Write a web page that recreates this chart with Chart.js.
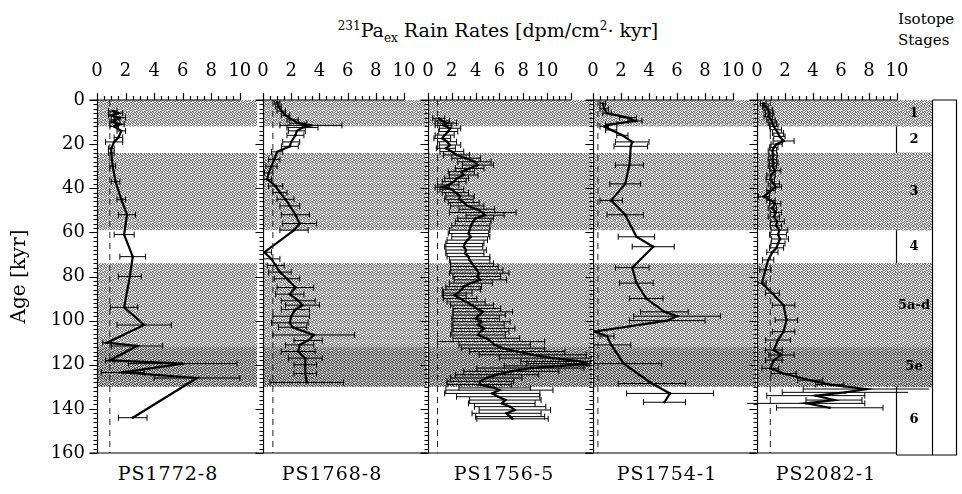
<!DOCTYPE html>
<html>
<head>
<meta charset="utf-8">
<title>231Pa ex rain rates</title>
<script src="https://cdn.jsdelivr.net/npm/chart.js@4.4.1/dist/chart.umd.min.js"></script>
<style>
  body { margin: 0; background: #fff; }
  #wrap { position: relative; width: 962px; height: 494px; overflow: hidden; font-family: "DejaVu Serif", serif; color: #000; }
  #wrap canvas { position: absolute; top: 50px; }
  .lbl { position: absolute; white-space: nowrap; line-height: 1; }
  .lbl sup, .lbl sub { font-size: 12px; line-height: 0; }
</style>
</head>
<body>
<div id="wrap">
  <div class="lbl" style="left:298px;width:400px;top:21px;text-align:center;font-size:19px"><sup>231</sup>Pa<sub>ex</sub> Rain Rates [dpm/cm<sup>2</sup>· kyr]</div>
  <div class="lbl" style="left:898px;top:9px;font-size:15px;line-height:21px">Isotope<br>Stages</div>
</div>
<script>
// isotope stages (kyr)
const stageLabels = ['1', '2', '3', '4', '5a-d', '5e', '6'];
const stageFrom = [0, 12, 24, 59, 74, 112, 130];
const stageTo = [12, 24, 59, 74, 112, 130, 160];
const stageShade = [1, 0, 1, 0, 1, 2, 0];

const coreNames = ['PS1772-8', 'PS1768-8', 'PS1756-5', 'PS1754-1', 'PS2082-1'];
const rateTicks = [0, 2, 4, 6, 8, 10];
const ageTicks = [0, 20, 40, 60, 80, 100, 120, 140, 160];
const baseline = [0.9, 0.7, 0.8, 0.35, 0.95];

// PS1772-8
const age1772 = [5, 6, 7, 8, 9, 10, 11, 12, 14, 17, 19, 22, 24, 30, 37, 45, 52, 61, 71, 80, 94, 102, 110, 111.5, 118, 119.5, 123.5, 126, 144];
const rate1772 = [1.1, 1.5, 1.0, 1.6, 1.3, 1.1, 1.6, 1.2, 1.7, 1.5, 1.2, 1.0, 1.0, 1.1, 1.3, 1.7, 2.1, 1.9, 2.5, 2.3, 1.9, 3.3, 0.7, 2.8, 0.9, 6.0, 1.8, 7.0, 2.5];
const err1772 = [0.3, 0.3, 0.2, 0.4, 0.3, 0.2, 0.3, 0.3, 0.3, 0.3, 0.6, 0.2, 0.2, 0.2, 0.3, 0.3, 0.6, 0.7, 0.9, 0.8, 0.95, 1.9, 0.3, 1.8, 0.3, 3.8, 1.5, 3.0, 1.0];

// PS1768-8
const age1768 = [1, 3, 5, 7, 9, 10.5, 11.5, 12.5, 14, 16, 19, 21, 23.5, 27, 30, 33, 36, 39, 42, 45, 48, 52, 56, 59, 69, 72, 75, 78, 81, 85, 88, 91, 93, 95, 98, 101, 103, 106.5, 109, 111, 114, 117, 120, 124, 128];
const rate1768 = [1.0, 1.1, 1.3, 1.6, 2.1, 2.5, 3.4, 2.8, 2.4, 2.3, 2.0, 1.9, 1.0, 0.8, 0.6, 0.4, 0.3, 0.9, 1.2, 1.6, 1.9, 2.3, 2.6, 2.2, 0.1, 0.6, 0.9, 1.2, 1.7, 2.3, 1.9, 2.5, 2.8, 2.3, 2.0, 1.9, 2.1, 3.6, 3.2, 2.6, 2.5, 3.0, 3.0, 3.0, 3.1];
const err1768 = [0.2, 0.2, 0.3, 0.3, 0.4, 0.6, 2.2, 1.1, 0.6, 0.6, 0.6, 0.6, 0.4, 0.4, 0.4, 0.3, 0.3, 0.5, 0.5, 0.6, 0.7, 1.0, 1.2, 1.0, 0.5, 0.6, 0.6, 0.8, 0.9, 1.3, 1.0, 1.2, 1.2, 1.0, 1.3, 1.3, 1.0, 2.9, 1.0, 1.0, 1.2, 1.2, 0.8, 0.8, 2.6];

// PS1756-5
const age1756 = [8.3, 9.5, 10.5, 11.5, 12.8, 14.3, 15.9, 17.4, 18.9, 20.4,
  21.9, 23.4, 24.9, 26.4, 28, 29.5, 31, 32.5, 34, 35.5,
  37, 38.5, 39.5, 40.5, 42, 43.5, 45, 46.5, 48, 49.5,
  51, 52.2, 53.6, 55, 57, 59, 60.5, 62, 63.5, 65,
  66.5, 68, 69.5, 71, 72.5, 74, 75.5, 77, 78.5, 80,
  81.5, 83, 84.6, 86, 87.5, 88.5, 90, 91.5, 93, 94.5,
  96, 97.5, 99, 100.5, 102, 103.5, 105, 106.5, 108, 109.5,
  111, 112.5, 114, 115.5, 117, 118.5, 119.5, 120.5, 121.5, 123,
  124.5, 126, 127.5, 129, 130.5, 131.5, 133, 134.5, 136, 137.5,
  139, 140.5, 142, 143.5, 144.5];
const rate1756 = [0.9, 1.2, 1.6, 1.3, 1.85, 1.7, 1.4, 1.2, 1.6, 1.85,
  1.5, 2.0, 2.4, 3.2, 3.9, 4.2, 3.5, 2.8, 3.0, 2.4,
  2.2, 1.7, 1.2, 2.0, 2.3, 2.7, 2.6, 3.0, 3.3, 4.1,
  4.6, 4.8, 4.0, 3.8, 3.6, 3.5, 3.4, 3.6, 3.3, 3.1,
  3.0, 3.2, 3.1, 3.4, 3.5, 3.7, 3.9, 4.1, 4.3, 4.1,
  4.4, 3.6, 3.0, 2.8, 2.5, 2.2, 2.7, 3.2, 3.7, 4.1,
  4.6, 4.3, 4.0, 4.5, 4.2, 4.7, 4.4, 4.2, 4.9, 5.3,
  5.6, 6.3, 7.5, 8.8, 10.5, 12.8, 13.3, 11.2, 8.6, 7.0,
  5.8, 4.9, 4.4, 4.3, 5.6, 6.0, 5.4, 5.9, 6.5, 6.2,
  6.9, 7.3, 6.6, 6.9, 7.1];
const err1756 = [0.5, 0.6, 0.8, 0.7, 0.9, 0.8, 0.8, 0.7, 0.8, 0.9,
  0.8, 1.0, 1.1, 1.2, 1.4, 1.3, 1.2, 1.1, 1.2, 1.0,
  1.0, 0.9, 0.6, 1.0, 1.1, 1.2, 1.2, 1.3, 1.4, 1.5,
  2.8, 1.6, 1.5, 1.5, 1.6, 1.7, 1.7, 1.6, 1.7, 1.6,
  1.6, 1.7, 1.6, 1.8, 1.7, 1.8, 2.0, 2.2, 2.5, 2.0,
  2.2, 1.8, 1.5, 1.6, 1.2, 1.0, 1.4, 1.6, 1.8, 2.0,
  2.5, 2.2, 2.0, 2.4, 2.2, 2.6, 2.4, 2.3, 2.8, 4.5,
  3.0, 3.5, 4.0, 4.5, 4.5, 5.0, 5.0, 4.8, 4.5, 4.0,
  3.5, 3.0, 2.8, 2.7, 3.0, 4.5, 4.0, 3.5, 3.0, 2.8,
  3.0, 3.0, 2.9, 2.9, 3.0];

// PS1754-1
const age1754 = [1.5, 4, 6, 8, 9.5, 11, 12, 13.6, 16, 19, 21, 29.5, 38, 45.5, 52, 62, 66.5, 76, 83, 90, 96, 98, 100, 105, 107, 111, 119.5, 128.5, 133, 137];
const rate1754 = [0.7, 0.8, 1.0, 2.5, 3.0, 1.3, 0.8, 1.3, 2.1, 2.8, 2.7, 2.6, 2.3, 1.3, 2.3, 3.1, 4.3, 2.8, 3.1, 3.8, 5.1, 6.0, 5.3, 0.1, 1.0, 1.3, 2.2, 4.2, 5.5, 5.1];
const err1754 = [0.2, 0.3, 0.3, 0.6, 0.5, 0.4, 0.3, 0.4, 0.4, 1.2, 1.2, 1.0, 1.1, 0.8, 1.3, 1.3, 1.5, 1.2, 1.2, 1.2, 1.7, 3.1, 2.7, 0.3, 0.5, 1.4, 2.7, 2.4, 3.1, 1.5];

// PS2082-1
const age2082 = [1.5, 3, 4.5, 6, 7.5, 9, 10.5, 12, 13.5, 15,
  16.5, 18.6, 20, 21.5, 23, 25, 27, 28.6, 30, 32,
  34, 36, 38, 39.5, 41, 43.8, 45.5, 47, 49, 51,
  53, 55, 57, 59, 61, 63, 65, 67, 69, 72.5,
  77, 83, 87.6, 93, 99.7, 105, 108.8, 113.3, 115.6, 117.9,
  121.6, 124, 127, 129, 131, 132.5, 134, 136, 137.5, 139.5];
const rate2082 = [0.45, 0.6, 0.8, 0.9, 0.8, 1.0, 1.1, 1.2, 1.35, 1.5,
  1.6, 1.9, 1.4, 1.2, 1.1, 1.15, 1.1, 1.2, 1.1, 1.3,
  1.0, 0.95, 1.2, 1.35, 1.0, 0.5, 1.0, 1.3, 1.1, 1.35,
  1.2, 1.45, 1.35, 1.6, 1.5, 1.65, 1.5, 1.4, 1.1, 0.8,
  0.6, 0.35, 1.1, 1.9, 2.1, 1.9, 1.5, 1.2, 1.75, 1.2,
  0.95, 1.9, 3.8, 5.2, 7.8, 6.3, 4.2, 5.5, 3.5, 5.2];
const err2082 = [0.2, 0.2, 0.3, 0.3, 0.3, 0.3, 0.3, 0.3, 0.4, 0.4,
  0.4, 0.75, 0.4, 0.3, 0.3, 0.3, 0.3, 0.3, 0.3, 0.4,
  0.3, 0.3, 0.4, 0.4, 0.3, 0.4, 0.3, 0.4, 0.3, 0.4,
  0.4, 0.5, 0.4, 0.6, 0.6, 0.6, 0.5, 0.5, 0.4, 0.4,
  0.4, 0.3, 0.5, 0.8, 0.8, 0.8, 0.9, 0.6, 0.9, 0.6,
  0.6, 0.9, 0.9, 1.0, 4.5, 4.5, 3.5, 2.0, 4.2, 3.8];

const cores = [
  {age: age1772, rate: rate1772, err: err1772},
  {age: age1768, rate: rate1768, err: err1768},
  {age: age1756, rate: rate1756, err: err1756},
  {age: age1754, rate: rate1754, err: err1754},
  {age: age2082, rate: rate2082, err: err2082}
];

// page layout of the five panels (pixels) and their x ranges
const panelBox = [
  {left: 97, right: 257, xMax: 11.2, tickMax: 10, labelX: 168},
  {left: 263, right: 427, xMax: 11.63, tickMax: 10, labelX: 332},
  {left: 428, right: 592, xMax: 13.78, tickMax: 12, labelX: 504},
  {left: 593, right: 756, xMax: 11.64, tickMax: 10, labelX: 667},
  {left: 757, right: 897, xMax: 10, tickMax: 10, labelX: 826}
];

Chart.defaults.font.family = '"DejaVu Serif", serif';
Chart.defaults.color = '#000';

// stippled grey fill like the printed figure
const stipple = ['10010110', '01101001', '10100100', '01001011',
                 '00110100', '11001010', '01010011', '10101100'];
function stipplePattern(dark, light) {
  const tile = document.createElement('canvas');
  tile.width = 8;
  tile.height = 8;
  const t = tile.getContext('2d');
  stipple.forEach((row, r) => {
    for (let c = 0; c < 8; c++) {
      t.fillStyle = row[c] === '1' ? dark : light;
      t.fillRect(c, r, 1, 1);
    }
  });
  return t.createPattern(tile, 'repeat');
}
const shadeColours = ['rgba(0,0,0,0)', stipplePattern('#707070', '#e8e8e8'), stipplePattern('#4a4a4a', '#c8c8c8')];
const wrap = document.getElementById('wrap');

const bandsPlugin = {
  id: 'stageBands',
  beforeDatasetsDraw(chart) {
    const {ctx, chartArea: a, scales: {y}} = chart;
    ctx.save();
    stageFrom.forEach((from, i) => {
      if (!stageShade[i]) return;
      const top = y.getPixelForValue(from);
      const bottom = y.getPixelForValue(stageTo[i]);
      ctx.fillStyle = shadeColours[stageShade[i]];
      ctx.fillRect(a.left, top, a.right - a.left, bottom - top);
    });
    ctx.restore();
  }
};

const framePlugin = {
  id: 'frame',
  afterDatasetsDraw(chart, args, opts) {
    const {ctx, chartArea: a, scales: {x, y}} = chart;
    const x0 = Math.round(x.getPixelForValue(0)) + 0.5;
    const seg = (x1, y1, x2, y2) => { ctx.moveTo(x1, y1); ctx.lineTo(x2, y2); };
    ctx.save();
    ctx.strokeStyle = '#000';
    ctx.lineWidth = 1.2;
    ctx.beginPath();
    seg(x0, a.top, x0, a.bottom);
    seg(x0 - 8, a.top, x.getPixelForValue(opts.tickMax), a.top);
    seg(x0 - 8, a.bottom, a.right, a.bottom);
    for (let v = 0; v <= opts.tickMax; v += 0.5) {
      const px = Math.round(x.getPixelForValue(v)) + 0.5;
      seg(px, a.top, px, a.top - (v % 2 === 0 ? 7 : 4));
    }
    for (let t = 0; t <= 160; t += 2) {
      const py = Math.round(y.getPixelForValue(t)) + 0.5;
      seg(x0, py, x0 - (t % 20 === 0 ? 8 : 4), py);
    }
    ctx.stroke();
    ctx.restore();
  }
};

function errorBarPoints(core) {
  const pts = [];
  core.age.forEach((a, i) => {
    pts.push({x: core.rate[i] - core.err[i], y: a},
             {x: core.rate[i] + core.err[i], y: a},
             {x: core.rate[i], y: null});
  });
  return pts;
}

function addCanvas(left, width, height) {
  const c = document.createElement('canvas');
  c.width = width;
  c.height = height;
  c.style.left = left + 'px';
  wrap.appendChild(c);
  return c;
}

// isotope stage column
const stageCanvas = addCanvas(884, 78, 408);
new Chart(stageCanvas, {
  type: 'bar',
  data: {
    labels: ['stages'],
    datasets: stageLabels.map((s, i) => ({
      label: s,
      data: [[stageFrom[i], stageTo[i]]],
      backgroundColor: shadeColours[stageShade[i]],
      grouped: false,
      barPercentage: 1,
      categoryPercentage: 1,
      borderWidth: 0
    }))
  },
  options: {
    responsive: false, animation: false, devicePixelRatio: 1,
    layout: {padding: {left: 12, right: 30, top: 50, bottom: 5}},
    plugins: {legend: {display: false}, tooltip: {enabled: false}},
    scales: {
      x: {display: false},
      y: {display: false, reverse: true, min: 0, max: 160}
    }
  },
  plugins: [{
    id: 'stageText',
    afterDatasetsDraw(chart) {
      const {ctx, chartArea: a, scales: {y}} = chart;
      ctx.save();
      ctx.font = 'bold 13px "DejaVu Serif"';
      ctx.textAlign = 'center';
      ctx.textBaseline = 'middle';
      ctx.fillStyle = '#000';
      stageLabels.forEach((s, i) => {
        ctx.fillText(s, (a.left + a.right) / 2, y.getPixelForValue((stageFrom[i] + stageTo[i]) / 2));
      });
      const l = a.left + 0.5, r = Math.round(a.right) + 0.5, o = r + 24, b = a.bottom + 2;
      ctx.strokeStyle = '#000';
      ctx.lineWidth = 1.2;
      ctx.beginPath();
      ctx.moveTo(l, a.top); ctx.lineTo(l, b);
      ctx.moveTo(r, a.top); ctx.lineTo(r, b);
      ctx.moveTo(r, a.top); ctx.lineTo(o, a.top); ctx.lineTo(o, b); ctx.lineTo(l, b);
      ctx.stroke();
      ctx.restore();
    }
  }]
});

// five core panels
panelBox.forEach((p, i) => {
  const core = cores[i];
  const first = i === 0;
  const canvasLeft = first ? 0 : p.left - 12;
  const padR = i === 4 ? 60 : 14;
  const canvas = addCanvas(canvasLeft, p.right - canvasLeft + padR, 408);

  new Chart(canvas, {
    type: 'scatter',
    data: {
      datasets: [
        {
          data: [{x: baseline[i], y: 0}, {x: baseline[i], y: 160}],
          showLine: true, borderColor: '#222', borderWidth: 1, borderDash: [6, 5], pointRadius: 0
        },
        {
          data: errorBarPoints(core),
          showLine: true, borderColor: '#000', borderWidth: 1,
          pointStyle: 'line', rotation: 90, pointRadius: 3, pointBorderWidth: 1, pointBorderColor: '#000',
          clip: i === 4 ? false : undefined
        },
        {
          data: core.age.map((a, k) => ({x: core.rate[k], y: a})),
          showLine: true, borderColor: '#000', borderWidth: 2.2, tension: 0,
          pointRadius: 1.2, pointBackgroundColor: '#000', pointBorderWidth: 0
        }
      ]
    },
    options: {
      responsive: false, animation: false, devicePixelRatio: 1,
      layout: {padding: {left: first ? 0 : 12, right: padR, top: 0, bottom: 5}},
      plugins: {legend: {display: false}, tooltip: {enabled: false}, frame: {tickMax: p.tickMax}},
      scales: {
        x: {
          type: 'linear', position: 'top', min: 0, max: p.xMax,
          afterBuildTicks(s) { s.ticks = rateTicks.map(v => ({value: v})); },
          afterFit(s) { s.height = 50; s.paddingLeft = 0; s.paddingRight = 0; },
          grid: {display: false, tickLength: 6},
          border: {display: false},
          ticks: {autoSkip: false, maxRotation: 0, padding: 12, font: {size: 18}}
        },
        y: {
          type: 'linear', reverse: true, min: 0, max: 160, display: first,
          afterBuildTicks(s) { s.ticks = ageTicks.map(v => ({value: v})); },
          afterFit(s) { s.width = first ? 97 : 0; s.paddingTop = 0; s.paddingBottom = 0; },
          grid: {display: false, tickLength: 8},
          border: {display: false},
          ticks: {autoSkip: false, padding: 4, font: {size: 18}},
          title: {display: true, text: 'Age [kyr]', font: {size: 20}, padding: {top: 8, bottom: 0}}
        }
      }
    },
    plugins: [bandsPlugin, framePlugin]
  });

  const name = document.createElement('div');
  name.className = 'lbl';
  name.textContent = coreNames[i];
  name.style.cssText = 'top:464px;font-size:19px;letter-spacing:1px;width:160px;text-align:center;left:' + (p.labelX - 80) + 'px';
  wrap.appendChild(name);
});
</script>
</body>
</html>
